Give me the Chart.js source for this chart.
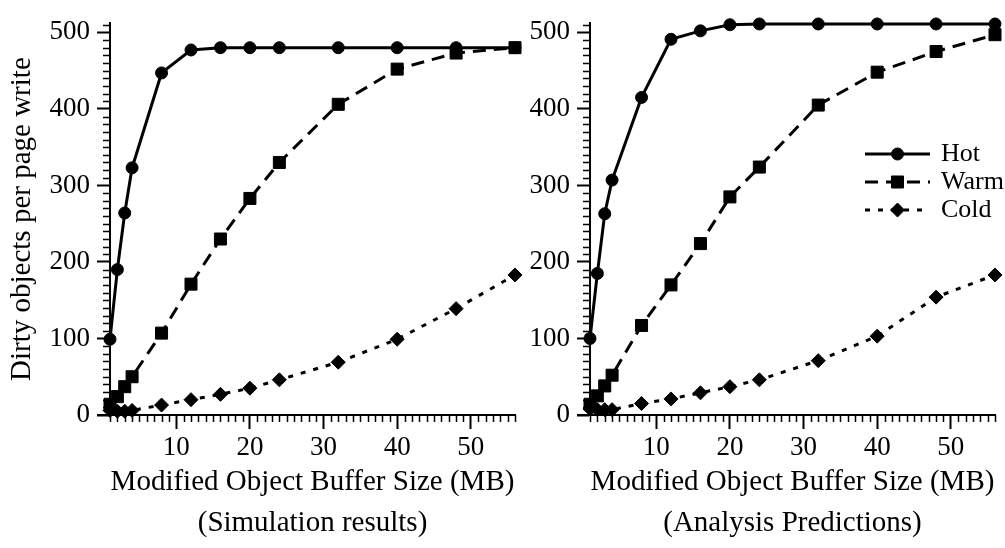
<!DOCTYPE html>
<html>
<head>
<meta charset="utf-8">
<script src="https://cdn.jsdelivr.net/npm/chart.js@4.4.0/dist/chart.umd.min.js"></script>
<style>
  html, body { margin: 0; padding: 0; background: #fff; }
  body { width: 1005px; height: 548px; position: relative; overflow: hidden; }
  canvas { position: absolute; top: 0; }
  #simChart { left: 0; }
  #predChart { left: 480px; }
</style>
</head>
<body>
<canvas id="simChart" width="525" height="548"></canvas>
<canvas id="predChart" width="525" height="548"></canvas>
<script>
// Buffer sizes (MB) on the x axis
const bufferSizes = [1, 2, 3, 4, 8, 12, 16, 20, 24, 32, 40, 48, 56];

// Simulation results
const simHot  = [99, 190, 264, 323, 447, 477, 480, 480, 480, 480, 480, 480, 480];
const simWarm = [14, 24, 37, 50, 107, 171, 230, 283, 330, 406, 452, 473, 480];
const simCold = [6, 5, 5, 6, 13, 20, 27, 35, 46, 69, 99, 139, 183];

// Analysis predictions
const predHot  = [100, 185, 263, 307, 415, 491, 502, 510, 511, 511, 511, 511, 511];
const predWarm = [14, 25, 38, 52, 117, 170, 224, 285, 324, 405, 448, 475, 497];
const predCold = [8, 7, 7, 7, 15, 21, 29, 37, 46, 71, 103, 154, 183];

const seriesNames = ['Hot', 'Warm', 'Cold'];
const xTickValues = [10, 20, 30, 40, 50];
const yTickValues = [0, 100, 200, 300, 400, 500];

const serif = "'Liberation Serif', 'Times New Roman', serif";
Chart.defaults.font.family = serif;
Chart.defaults.color = '#000';

// Minor tick marks + the short stub of the x axis left of the y axis
const minorTicks = {
    id: 'minorTicks',
    afterDraw(chart) {
        const { ctx, chartArea, scales } = chart;
        const x = scales.x, y = scales.y;
        ctx.save();
        ctx.strokeStyle = '#000';
        ctx.lineWidth = 1.5;
        ctx.beginPath();
        for (let v = Math.ceil(x.min); v <= x.max; v++) {
            if (v % 10 === 0) continue;
            const px = Math.round(x.getPixelForValue(v)) + 0.5;
            ctx.moveTo(px, chartArea.bottom);
            ctx.lineTo(px, chartArea.bottom + 7);
        }
        for (let v = 10; v <= y.max; v += 10) {
            if (v % 100 === 0) continue;
            const py = Math.round(y.getPixelForValue(v)) + 0.5;
            ctx.moveTo(chartArea.left - 7, py);
            ctx.lineTo(chartArea.left, py);
        }
        ctx.stroke();
        ctx.lineWidth = 2;
        ctx.beginPath();
        ctx.moveTo(chartArea.left - 13, chartArea.bottom);
        ctx.lineTo(chartArea.left, chartArea.bottom);
        ctx.stroke();
        ctx.restore();
    }
};

// Legend drawn inside the plot, from the dataset styles
const insideLegend = {
    id: 'insideLegend',
    afterDraw(chart, args, opts) {
        if (!opts.show) return;
        const ctx = chart.ctx;
        ctx.save();
        chart.data.datasets.forEach(function(ds, i) {
            const y = opts.top + i * opts.rowHeight;
            ctx.strokeStyle = '#000';
            ctx.fillStyle = '#000';
            ctx.lineWidth = ds.borderWidth;
            ctx.setLineDash(ds.borderDash || []);
            ctx.beginPath();
            ctx.moveTo(opts.lineStart, y);
            ctx.lineTo(opts.lineEnd, y);
            ctx.stroke();
            ctx.setLineDash([]);
            ctx.lineWidth = 1;
            Chart.helpers.drawPoint(ctx, {
                pointStyle: ds.pointStyle,
                radius: ds.pointRadius,
                rotation: 0,
                borderWidth: 1
            }, (opts.lineStart + opts.lineEnd) / 2, y);
            ctx.font = '26px ' + serif;
            ctx.textBaseline = 'middle';
            ctx.textAlign = 'left';
            ctx.fillText(ds.label, opts.textX, y);
        });
        ctx.restore();
    }
};

function seriesStyle(i) {
    const styles = [
        { pointStyle: 'circle', pointRadius: 6, borderDash: [] },
        { pointStyle: 'rect', pointRadius: 8.5, borderDash: [13, 8] },
        { pointStyle: 'rectRot', pointRadius: 7, borderDash: [5, 8] }
    ];
    return styles[i];
}

function makeChart(canvasId, hot, warm, cold, caption, showYTitle, showLegend) {
    const ctx = document.getElementById(canvasId).getContext('2d');
    const datasets = [hot, warm, cold].map(function(values, i) {
        const st = seriesStyle(i);
        return {
            label: seriesNames[i],
            data: bufferSizes.map((x, k) => ({ x: x, y: values[k] })),
            borderColor: '#000',
            backgroundColor: '#000',
            borderWidth: 3,
            borderDash: st.borderDash,
            pointStyle: st.pointStyle,
            pointRadius: st.pointRadius,
            pointBorderWidth: 1,
            pointBackgroundColor: '#000',
            pointBorderColor: '#000',
            tension: 0,
            clip: false
        };
    });
    return new Chart(ctx, {
        type: 'line',
        data: { datasets: datasets },
        options: {
            responsive: false,
            animation: false,
            layout: { padding: { left: 0, right: 10, top: 12, bottom: 0 } },
            scales: {
                x: {
                    type: 'linear',
                    min: 1,
                    max: 56,
                    afterBuildTicks: s => { s.ticks = xTickValues.map(v => ({ value: v })); },
                    afterFit: s => { s.height = 133; },
                    border: { display: true, color: '#000', width: 2 },
                    grid: { drawOnChartArea: false, drawTicks: true, tickLength: 14, tickColor: '#000', tickWidth: 2 },
                    ticks: { font: { size: 27 }, color: '#000', padding: 3, maxRotation: 0, autoSkip: false },
                    title: {
                        display: true,
                        text: ['Modified Object Buffer Size (MB)', caption],
                        font: { size: 29, lineHeight: 1.41 },
                        color: '#000',
                        padding: { top: 0, bottom: 4 }
                    }
                },
                y: {
                    type: 'linear',
                    min: 0,
                    max: 512,
                    afterBuildTicks: s => { s.ticks = yTickValues.map(v => ({ value: v })); },
                    afterFit: s => { s.width = 110; },
                    border: { display: true, color: '#000', width: 2 },
                    grid: { drawOnChartArea: false, drawTicks: true, tickLength: 13, tickColor: '#000', tickWidth: 2 },
                    ticks: { font: { size: 27 }, color: '#000', padding: 7 },
                    title: {
                        display: showYTitle,
                        text: 'Dirty objects per page write',
                        font: { size: 29 },
                        color: '#000',
                        padding: { top: 5, bottom: 0 }
                    }
                }
            },
            plugins: {
                legend: { display: false },
                tooltip: { enabled: false },
                insideLegend: { show: showLegend, top: 154, rowHeight: 28, lineStart: 385, lineEnd: 450, textX: 461 }
            }
        },
        plugins: [minorTicks, insideLegend]
    });
}

window.onload = function() {
    makeChart('simChart', simHot, simWarm, simCold, '(Simulation results)', true, false);
    makeChart('predChart', predHot, predWarm, predCold, '(Analysis Predictions)', false, true);
};
</script>
</body>
</html>
